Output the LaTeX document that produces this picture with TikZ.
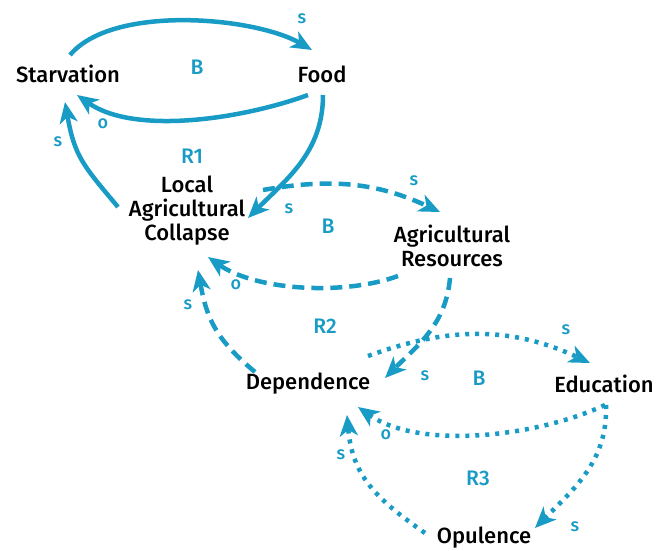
\documentclass[tikz,border=0pt]{standalone}
\usepackage{fontspec}
\setmainfont{Fira Sans Medium}
\usetikzlibrary{arrows.meta}
\definecolor{loopblue}{RGB}{24,155,196}
\begin{document}
\begin{tikzpicture}[x=1pt,y=1pt,
  var/.style={text=black, font=\fontsize{22}{24}\selectfont, align=center, inner sep=0pt},
  looplbl/.style={text=loopblue, font=\fontsize{21}{24}\selectfont},
  pol/.style={text=loopblue, font=\fontsize{18}{20}\selectfont},
  link/.style={draw=loopblue, line width=4.5pt, -{Stealth[length=21pt,width=18pt,inset=6pt]}},
  dashlink/.style={link, dash pattern=on 12pt off 7pt},
  dotlink/.style={link, dash pattern=on 4pt off 6pt}]
\useasboundingbox (0,0) rectangle (659,550);

% variables
\node[var] (starv) at (68,476) {Starvation};
\node[var] (food) at (322,476) {Food};
\node[var] (lac) at (187,339) {Local\\Agricultural\\Collapse};
\node[var] (agres) at (452,304) {Agricultural\\Resources};
\node[var] (dep) at (308,166) {Dependence};
\node[var] (edu) at (604,166) {Education};
\node[var] (opul) at (484,12) {Opulence};

% loop markers
\node[looplbl] (b1) at (197,483) {B};
\node[looplbl] (r1) at (192,394) {R1};
\node[looplbl] (b2) at (328,324) {B};
\node[looplbl] (r2) at (325,224) {R2};
\node[looplbl] (b3) at (479,172) {B};
\node[looplbl] (r3) at (478,72) {R3};

% upper loops (solid)
\draw[link] ([shift={(2,19)}]starv.center) to[out=50,in=150,looseness=0.7] ([shift={(-10,24)}]food.center);
\draw[link] ([shift={(-14,-21)}]food.center) to[out=200,in=-35,looseness=0.78] ([shift={(9,-21)}]starv.center);
\draw[link] ([shift={(1,-21)}]food.center) to[out=-90,in=45] ([shift={(61,-7)}]lac.center);
\draw[link] ([shift={(-69,4)}]lac.center) to[out=130,in=-80,looseness=1.2] ([shift={(-3,-28)}]starv.center);

% middle loops (dashed)
\draw[dashlink] ([shift={(76,21)}]lac.center) to[out=10,in=155] ([shift={(-12,34)}]agres.center);
\draw[dashlink] ([shift={(-54,-30)}]agres.center) to[out=200,in=-35,looseness=0.78] ([shift={(21,-46)}]lac.center);
\draw[dashlink] ([shift={(-2,-32)}]agres.center) to[out=-95,in=45] ([shift={(77,6)}]dep.center);
\draw[dashlink] ([shift={(-53,12)}]dep.center) to[out=140,in=-80,looseness=1.1] ([shift={(11,-59)}]lac.center);

% lower loops (dotted)
\draw[dotlink] ([shift={(60,28)}]dep.center) to[out=20,in=155] ([shift={(-14,21)}]edu.center);
\draw[dotlink] ([shift={(1,-21)}]edu.center) to[out=205,in=-35,looseness=0.78] ([shift={(50,-23)}]dep.center);
\draw[dotlink] ([shift={(2,-21)}]edu.center) to[out=-88,in=45] ([shift={(51,10)}]opul.center);
\draw[dotlink] ([shift={(-59,5)}]opul.center) to[out=145,in=-85,looseness=1.1] ([shift={(39,-31)}]dep.center);

% link polarities
\node[pol] (p1) at (302,531) {s};
\node[pol] (p2) at (103,426) {o};
\node[pol] (p3) at (58,408) {s};
\node[pol] (p4) at (289,341) {s};
\node[pol] (p5) at (414,369) {s};
\node[pol] (p6) at (236,265) {o};
\node[pol] (p7) at (188,245) {s};
\node[pol] (p8) at (425,174) {s};
\node[pol] (p9) at (566,220) {s};
\node[pol] (p10) at (386,115) {o};
\node[pol] (p11) at (341,95) {s};
\node[pol] (p12) at (575,23) {s};
\end{tikzpicture}
\end{document}
